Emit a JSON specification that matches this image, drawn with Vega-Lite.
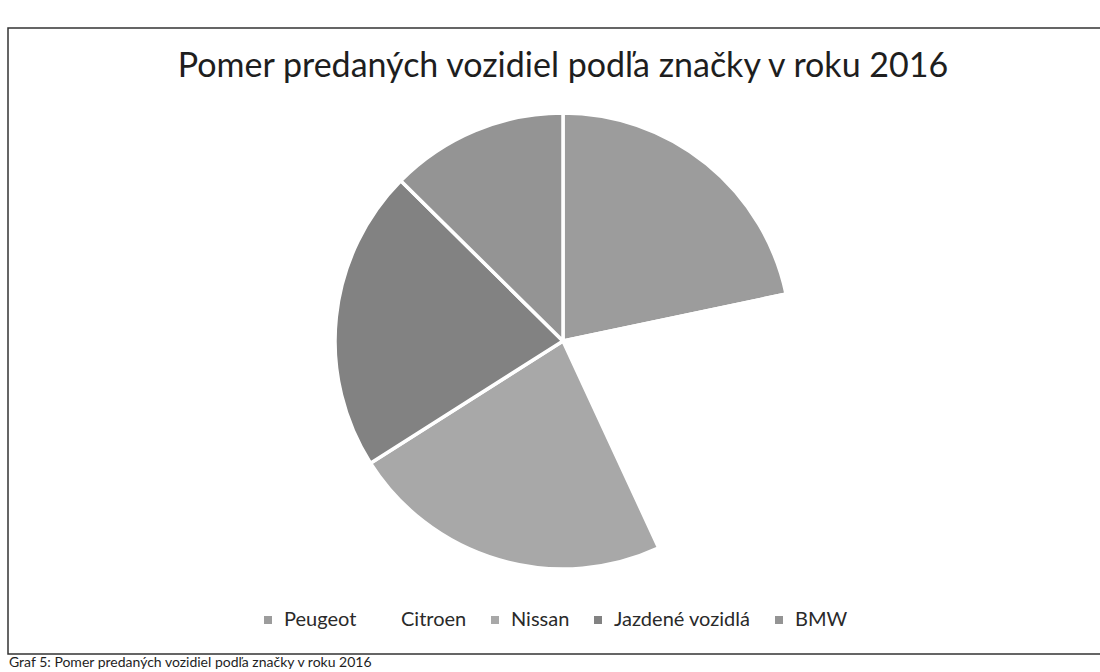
{
  "$schema": "https://vega.github.io/schema/vega-lite/v6.json",
  "padding": {"left": 7, "top": 27, "right": 0, "bottom": 0},
  "background": "white",
  "config": {"font": "Lato", "view": {"stroke": null}},
  "spacing": 0,
  "vconcat": [
    {
      "width": 1110,
      "height": 626,
      "view": {"stroke": "#333333", "strokeWidth": 1.5},
      "title": {
        "text": "Pomer predaných vozidiel podľa značky v roku 2016",
        "orient": "top",
        "anchor": "middle",
        "frame": "group",
        "offset": -83,
        "baseline": "alphabetic",
        "fontSize": 34,
        "fontWeight": "normal",
        "font": "Lato",
        "color": "#1e1e1e"
      },
      "data": {
        "values": [
          {"znacka": "Peugeot", "podiel": 21.7, "poradie": 1},
          {"znacka": "Citroen", "podiel": 21.4, "poradie": 2},
          {"znacka": "Nissan", "podiel": 22.9, "poradie": 3},
          {"znacka": "Jazdené vozidlá", "podiel": 21.4, "poradie": 4},
          {"znacka": "BMW", "podiel": 12.6, "poradie": 5}
        ]
      },
      "mark": {"type": "arc", "outerRadius": 228, "stroke": "white", "strokeWidth": 3.5},
      "encoding": {
        "theta": {"field": "podiel", "type": "quantitative", "stack": true},
        "order": {"field": "poradie", "type": "quantitative"},
        "color": {
          "field": "znacka",
          "type": "nominal",
          "scale": {
            "domain": ["Peugeot", "Citroen", "Nissan", "Jazdené vozidlá", "BMW"],
            "range": ["#9c9c9c", "#ffffff", "#a8a8a8", "#828282", "#949494"]
          },
          "legend": {
            "orient": "none",
            "legendX": 250,
            "legendY": 582,
            "direction": "horizontal",
            "title": null,
            "symbolType": "square",
            "symbolSize": 64,
            "symbolStrokeWidth": 0,
            "labelFontSize": 20,
            "labelFont": "Lato",
            "labelColor": "#2a2a2a",
            "labelOffset": 6,
            "columnPadding": 18,
            "padding": 0
          }
        }
      }
    },
    {
      "width": 2,
      "height": 2,
      "data": {"values": [{"popis": "Graf 5: Pomer predaných vozidiel podľa značky v roku 2016"}]},
      "mark": {"type": "text", "align": "left", "baseline": "top", "fontSize": 14, "font": "Lato", "color": "#1e1e1e"},
      "encoding": {"text": {"field": "popis", "type": "nominal"}}
    }
  ]
}
